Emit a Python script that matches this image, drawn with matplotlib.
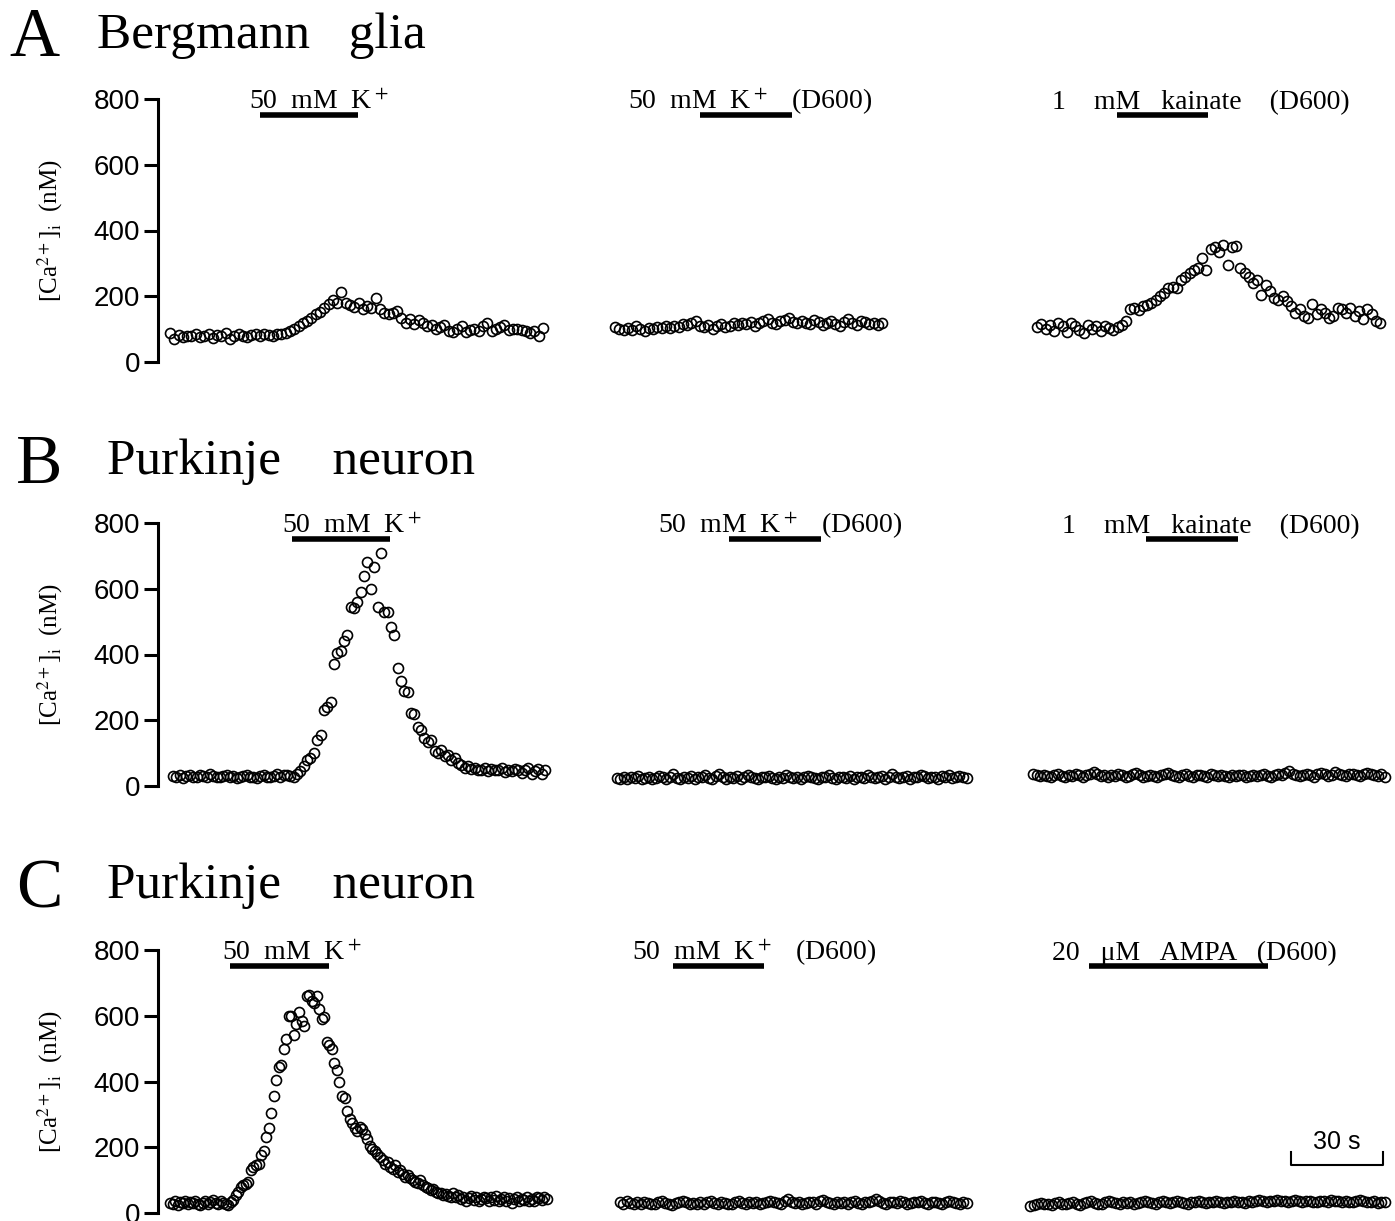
import numpy as np
import matplotlib
matplotlib.use("Agg")
import matplotlib.pyplot as plt

plt.rcParams['font.family'] = ['Liberation Serif', 'DejaVu Serif']
plt.rcParams['mathtext.fontset'] = 'stix'

# ---- data: [Ca2+]i (nM) sampled traces, read off the figure ----
# row A, Bergmann glia
glia_k = [88, 70, 82, 76, 80, 78, 84, 75, 80, 86, 72, 82, 78, 88, 70, 80, 84, 78, 76, 82,
          85, 80, 84, 82, 80, 84, 86, 88,
          95, 100, 110, 118, 125, 135, 145, 152, 165,
          175, 190, 180, 213, 178, 172, 168, 180, 160,
          170, 165, 195, 160, 150, 145, 148, 155, 135, 120,
          130, 115, 128, 120, 110, 112, 100, 105, 112, 95, 90, 100, 110, 92, 98,
          100, 95, 110, 118, 95, 100, 105, 112, 98, 100, 100, 98, 95, 88, 95, 80, 102]
glia_k_d600 = [105, 100, 98, 102, 96, 108, 100, 95, 104, 100, 106, 102, 108, 104, 110, 106,
               115, 112, 118, 125, 110, 105, 112, 100, 108, 115, 105, 110, 120, 112, 118, 115,
               122, 110, 118, 125, 130, 120, 115, 125, 128, 135, 122, 118, 126, 120, 115, 128,
               122, 112, 118, 125, 115, 108, 122, 130, 118, 112, 126, 122, 115, 120, 112, 118]
glia_kainate = [105, 115, 100, 112, 95, 118, 108, 92, 120, 110, 98, 88, 112, 100, 108, 95,
                110, 102, 98, 105, 112,
                125, 160, 165, 158, 170, 172, 178, 190, 200, 210, 225, 228, 225, 250, 258,
                270, 280, 285, 315, 280,
                345, 350, 335, 355, 295, 350, 352,
                285, 270, 258, 240, 250, 205, 235, 215, 195, 190, 200, 185, 170,
                150, 160, 140, 135, 175, 145, 160, 150, 135, 140, 165, 160, 150, 165, 140,
                155, 130, 160, 145, 125, 118]

# row B, Purkinje neuron
pk_k_b = [30, 28, 32, 25, 30, 34, 28, 26, 32, 30, 27, 35, 30, 28, 26, 30, 32, 28, 30, 25,
          27, 30, 33, 28, 26, 24, 30, 32, 28, 26, 30, 35, 28, 32, 34, 30, 26, 38,
          45, 60, 78, 85, 100, 140, 155, 230, 240, 255, 370, 405, 410, 440, 460, 545, 540,
          560, 590, 640, 680, 600, 665, 545, 710, 530, 530, 485, 460, 360, 318, 290, 285,
          222, 220, 180, 170, 145, 135, 140, 105, 100, 110, 90, 95, 80, 85, 70, 65, 55, 60,
          52, 55,
          50, 48, 55, 45, 52, 50, 48, 55, 42, 50, 45, 52, 48, 40, 50, 55, 38, 45, 52, 35, 48]
pk_k_d600_b = [25, 22, 28, 20, 26, 24, 30, 22, 25, 28, 20, 24, 30, 26, 22, 28, 35, 25, 20, 27,
               24, 30, 22, 26, 28, 32, 25, 22, 30, 38, 26, 22, 28, 24, 30, 20, 26, 32, 28, 24,
               22, 28, 26, 30, 24, 22, 28, 25, 32, 26, 24, 28, 22, 26, 30, 28, 24, 22, 26, 28,
               32, 25, 22, 28, 26, 24, 30, 22, 28, 26, 24, 32, 28, 24, 26, 30, 22, 28, 35, 26,
               24, 28, 30, 22, 26, 28, 34, 30, 24, 28, 26, 22, 30, 28, 32, 24, 26, 30, 28, 25]
pk_kainate_b = [35, 32, 30, 34, 30, 28, 32, 35, 30, 28, 33, 30, 36, 32, 28, 34, 38, 42, 35, 30,
                32, 28, 34, 30, 36, 32, 28, 30, 35, 40, 32, 28, 30, 34, 30, 26, 32, 36, 40, 34,
                30, 28, 32, 35, 30, 28, 34, 32, 30, 28, 36, 32, 30, 34, 30, 28, 32, 30, 34, 32,
                28, 30, 33, 30, 32, 35, 30, 28, 32, 36, 34, 40, 45, 36, 32, 30, 34, 38, 32, 28,
                35, 40, 36, 30, 34, 42, 38, 32, 30, 35, 38, 34, 30, 36, 40, 35, 32, 30, 36, 28]

# row C, Purkinje neuron
pk_k_c = [30, 28, 35, 25, 32, 30, 38, 27, 33, 29, 35, 26, 24, 30, 36, 28, 32, 40, 30, 27,
          35, 30, 28, 25, 32,
          40, 55, 65, 80, 85, 88, 95, 130, 140, 145, 150, 175, 190, 230, 260, 305, 355, 405,
          445, 450, 500, 530, 600, 598, 540, 575, 610, 585, 570, 660, 662, 645, 640, 660, 620,
          590, 595, 520, 510, 500, 455, 435, 400, 355, 350, 310, 285, 275, 260, 250, 262, 255,
          240, 225, 205, 195, 190, 180, 170, 160, 150, 155, 140, 135, 145, 125, 130, 120, 110,
          115, 105, 100, 95, 90, 100, 85, 80, 75, 70, 72, 65, 60, 62, 55, 58, 52, 50, 60,
          48, 55, 42, 50, 38, 45, 52, 40, 48, 35, 42, 50, 45, 38, 48, 40, 52, 35, 44, 48,
          38, 45, 30, 42, 50, 36, 44, 40, 48, 35, 42, 38, 50, 45, 40, 48, 42]
pk_k_d600_c = [32, 28, 35, 30, 26, 32, 28, 34, 30, 26, 28, 32, 35, 30, 28, 25, 30, 34, 38, 32,
               28, 30, 26, 32, 28, 34, 36, 30, 28, 32, 30, 26, 28, 32, 35, 30, 28, 32, 30, 34,
               28, 30, 32, 36, 34, 30, 28, 38, 42, 34, 30, 32, 28, 30, 34, 32, 28, 36, 40, 34,
               30, 28, 32, 30, 34, 28, 32, 36, 30, 28, 34, 32, 38, 44, 36, 30, 28, 32, 34, 30,
               36, 32, 28, 30, 34, 32, 36, 30, 28, 34, 32, 30, 28, 34, 36, 32, 30, 28, 32, 30]
pk_ampa_c = [22, 25, 28, 30, 26, 28, 24, 30, 32, 28, 26, 30, 34, 28, 25, 30, 32, 36, 30, 28,
             26, 32, 38, 32, 30, 28, 34, 30, 32, 28, 30, 34, 36, 32, 30, 28, 34, 38, 32, 30,
             34, 36, 32, 30, 28, 34, 32, 36, 34, 30, 32, 34, 38, 32, 30, 34, 32, 36, 34, 32,
             30, 36, 34, 38, 40, 36, 34, 38, 36, 40, 38, 36, 34, 38, 40, 36, 34, 38, 36, 34,
             32, 36, 38, 34, 40, 36, 38, 34, 36, 32, 34, 38, 40, 36, 32, 34, 36, 30, 32, 34]

# recording windows (s) and drug application (s) per panel
trace_start = [[3.9, 4.9, 7.2], [4.9, 5.5, 5.9], [3.9, 6.5, 4.9]]
trace_end = [[125.4, 91.9, 118.9], [126.1, 119.4, 120.5], [126.7, 119.4, 120.5]]
stim_on = [[33.2, 32.6, 33.2], [43.6, 42.0, 42.7], [23.5, 23.8, 24.1]]
stim_off = [[65.1, 62.5, 62.9], [75.6, 72.0, 72.6], [55.7, 53.4, 82.4]]

stim_labels = [["50  mM  K$^+$", "50  mM  K$^+$   (D600)", "1    mM   kainate    (D600)"],
               ["50  mM  K$^+$", "50  mM  K$^+$   (D600)", "1    mM   kainate    (D600)"],
               ["50  mM  K$^+$", "50  mM  K$^+$   (D600)", "20   μM   AMPA   (D600)"]]
row_letters = ["A", "B", "C"]
row_titles = ["Bergmann   glia", "Purkinje    neuron", "Purkinje    neuron"]
yticks = [0, 200, 400, 600, 800]

traces = [[glia_k, glia_k_d600, glia_kainate],
          [pk_k_b, pk_k_d600_b, pk_kainate_b],
          [pk_k_c, pk_k_d600_c, pk_ampa_c]]

# ---- layout (pixels) ----
W, H = 1395, 1221
PX_PER_S = 3.07
PX_PER_NM = 263 / 800.
col_left = [158, 600, 1015]
row_zero = [362, 786, 1213]
label_left = [[249, 628, 1052], [282, 658, 1062], [222, 632, 1052]]
title_y = [48, 474, 898]
letter_y = [56, 483, 907]
letter_x = [9, 16, 16]
title_x = [97, 107, 107]

fig = plt.figure(figsize=(W / 100, H / 100), dpi=100)

for r in range(3):
    fig.text(letter_x[r] / W, 1 - letter_y[r] / H, row_letters[r], fontsize=50,
             ha='left', va='baseline')
    fig.text(title_x[r] / W, 1 - title_y[r] / H, row_titles[r], fontsize=37,
             ha='left', va='baseline')
    for c in range(3):
        bottom = row_zero[r] + 25 * PX_PER_NM
        top = row_zero[r] - 830 * PX_PER_NM
        ax = fig.add_axes([col_left[c] / W, 1 - bottom / H, 395 / W, (bottom - top) / H])
        ax.set_xlim(0, 395 / PX_PER_S)
        ax.set_ylim(-25, 830)
        ax.patch.set_visible(False)

        y = np.array(traces[r][c])
        t = np.linspace(trace_start[r][c], trace_end[r][c], len(y))
        ax.plot(t, y, 'o', mfc='none', mec='black', ms=7.2, mew=1.2)

        ax.plot([stim_on[r][c], stim_off[r][c]], [750, 750], color='black',
                lw=4, solid_capstyle='butt')
        ax.text((label_left[r][c] - col_left[c]) / PX_PER_S, 770, stim_labels[r][c],
                fontsize=20, ha='left', va='baseline')

        for s in ['top', 'right', 'bottom']:
            ax.spines[s].set_visible(False)
        ax.set_xticks([])
        if c == 0:
            ax.spines['left'].set_bounds(0, 800)
            ax.spines['left'].set_linewidth(2.2)
            ax.set_yticks(yticks)
            ax.tick_params(axis='y', length=10, width=2.2, pad=3)
            for lab in ax.get_yticklabels():
                lab.set_fontfamily('Liberation Sans')
                lab.set_fontsize(20)
            ax.set_ylabel("[Ca$^{2+}$]$_{\\mathrm{i}}$  (nM)", fontsize=18)
            ax.yaxis.set_label_coords(-0.235, (400 + 25) / 855)
        else:
            ax.spines['left'].set_visible(False)
            ax.set_yticks([])

        if r == 2 and c == 2:
            # 30 s scale bar
            x0 = (1291 - col_left[c]) / PX_PER_S
            ax.plot([x0, x0, x0 + 30, x0 + 30], [185, 146, 146, 185], color='black',
                    lw=1.5)
            ax.text(x0 + 15, 215, "30 s", fontsize=18, family='Liberation Sans',
                    ha='center', va='center')

fig.savefig("out.png", dpi=100)
